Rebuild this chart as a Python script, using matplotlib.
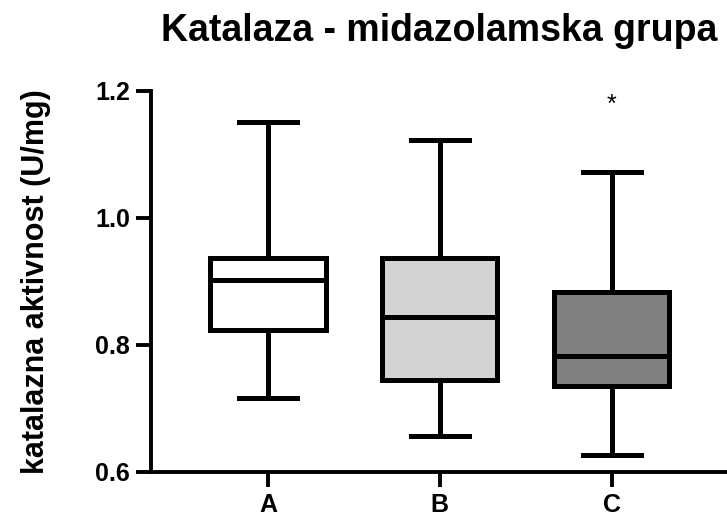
import matplotlib
matplotlib.use("Agg")
import matplotlib.pyplot as plt

plt.rcParams['font.family'] = ['Liberation Sans', 'DejaVu Sans']
plt.rcParams['font.weight'] = 'bold'

# data
groups = ['A', 'B', 'C']
whislo = [0.716, 0.656, 0.626]
q1 = [0.823, 0.745, 0.735]
med = [0.902, 0.844, 0.782]
q3 = [0.937, 0.936, 0.883]
whishi = [1.151, 1.122, 1.072]
colors = ['#ffffff', '#d3d3d3', '#808080']
star_value = 1.177


def main():
    fig = plt.figure(figsize=(7.27, 5.19), dpi=100)
    ax = fig.add_axes([0.2077, 0.0911, 0.7923, 0.7341])

    stats = []
    for i, g in enumerate(groups):
        stats.append(dict(label=g, whislo=whislo[i], q1=q1[i], med=med[i],
                          q3=q3[i], whishi=whishi[i], fliers=[]))

    lw = 3.6
    bp = ax.bxp(stats, positions=[1, 2, 3], widths=0.67, patch_artist=True,
                showfliers=False,
                boxprops=dict(linewidth=lw, edgecolor='black'),
                medianprops=dict(linewidth=lw, color='black'),
                whiskerprops=dict(linewidth=lw, color='black'),
                capprops=dict(linewidth=lw, color='black'),
                capwidths=0.34)
    for patch, c in zip(bp['boxes'], colors):
        patch.set_facecolor(c)

    ax.text(3, star_value, '*', ha='center', va='center', fontsize=18,
            fontweight='normal')

    ax.set_xlim(0.32, 3.67)
    ax.set_ylim(0.6, 1.2)
    ax.set_yticks([0.6, 0.8, 1.0, 1.2])
    ax.set_yticklabels(['0.6', '0.8', '1.0', '1.2'])
    ax.set_xticks([1, 2, 3])
    ax.set_xticklabels(groups)

    for side in ['top', 'right']:
        ax.spines[side].set_visible(False)
    for side in ['left', 'bottom']:
        ax.spines[side].set_linewidth(2.8)
        ax.spines[side].set_capstyle('projecting')
    ax.tick_params(axis='both', width=2.8, length=11, labelsize=18, pad=4)

    ax.set_ylabel('katalazna aktivnost (U/mg)', fontsize=22, fontweight='bold',
                  labelpad=32)
    ax.set_title('Katalaza - midazolamska grupa', fontsize=27, fontweight='bold',
                 pad=36)

    fig.savefig('out.png', dpi=100)


if __name__ == "__main__":
    main()
